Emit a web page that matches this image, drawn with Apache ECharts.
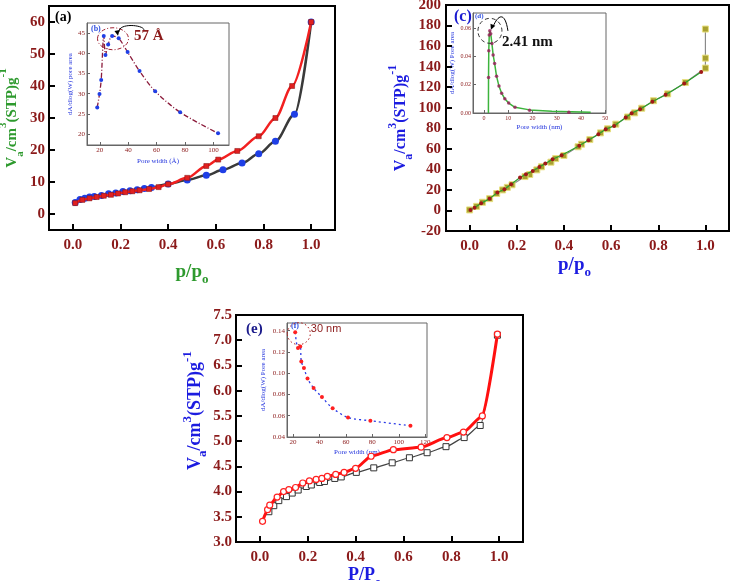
<!DOCTYPE html>
<html><head><meta charset="utf-8">
<script src="https://cdn.jsdelivr.net/npm/echarts@6/dist/echarts.min.js"></script>
<style>html,body{margin:0;padding:0;background:#fff}#c{width:732px;height:581px}</style>
</head><body><div id="c"></div><script>
// ---------- data ----------
// Panel (a): N2 isotherm
const aAdsP = [0.01,0.03,0.05,0.07,0.09,0.12,0.15,0.18,0.21,0.24,0.27,0.30,0.33,0.40,0.48,0.56,0.63,0.71,0.78,0.85,0.93,1.0];
const aAdsV = [3.6,4.5,4.9,5.3,5.5,5.8,6.3,6.6,7.0,7.3,7.6,8.0,8.3,9.4,10.6,12.1,13.8,15.9,18.8,22.7,31.2,60.0];
const aDesP = [0.01,0.04,0.07,0.10,0.13,0.16,0.19,0.22,0.25,0.28,0.32,0.36,0.40,0.48,0.56,0.61,0.69,0.78,0.85,0.92,1.0];
const aDesV = [3.4,4.4,4.9,5.3,5.7,6.0,6.4,6.8,7.1,7.4,7.8,8.4,9.3,11.3,15.0,17.0,19.7,24.3,30.0,40.0,60.0];
// Inset (b): pore size distribution
const bWidth = [18.2,19.8,21.0,22.8,24.0,25.9,28.7,33.3,39.6,48.0,59.0,76.6,103.3];
const bArea  = [26.6,29.9,33.4,44.3,39.6,42.2,44.3,43.7,40.3,35.6,30.6,25.4,20.2];
// Panel (c)
const cAdsP = [0.004,0.021,0.049,0.085,0.118,0.148,0.176,0.214,0.239,0.268,0.296,0.321,0.352,0.39,0.465,0.504,0.546,0.577,0.613,0.662,0.687,0.723,0.775,0.831,0.91,0.982];
const cAdsV = [0.5,2.7,6.9,11.5,17.4,20.6,25.5,32.0,35.2,38.5,42.4,45.6,49.8,53.8,62.9,68.4,74.2,79.1,82.3,90.5,94.7,98.6,105.8,112.6,123.6,134.7];
const cDesP = [1.0,1.0,1.0,0.915,0.84,0.78,0.73,0.70,0.67,0.62,0.585,0.555,0.51,0.475,0.46,0.40,0.365,0.345,0.305,0.285,0.255,0.235,0.18,0.16,0.14,0.115,0.085,0.055,0.03,0.0];
const cDesV = [176.6,148.3,138.6,124.5,113.5,106.8,99.5,95.0,91.0,84.0,79.5,75.5,69.0,64.5,62.0,53.5,50.5,47.0,42.5,39.5,35.0,33.0,25.0,22.5,20.0,16.5,11.5,8.0,4.0,0.5];
// Inset (d)
const dWidth = [1.9,2.0,2.2,2.41,2.8,3.3,3.8,4.4,5.2,6.2,7.3,8.6,10.2,12.8,18.8,35.0];
const dArea  = [0.025,0.044,0.055,0.058,0.056,0.049,0.041,0.035,0.026,0.019,0.014,0.010,0.007,0.004,0.002,0.0006];
const dLineW = [1.85,1.9,2.0,2.2,2.41,2.8,3.3,3.8,4.4,5.2,6.2,7.3,8.6,10.2,12.8,18.8,28.0,44.0];
const dLineA = [0.0,0.025,0.044,0.055,0.058,0.056,0.049,0.041,0.035,0.026,0.019,0.014,0.010,0.007,0.004,0.0022,0.0012,0.0005];
// Panel (e)
const eAdsP = [0.011,0.032,0.041,0.072,0.099,0.121,0.149,0.179,0.207,0.235,0.259,0.282,0.317,0.352,0.40,0.465,0.558,0.674,0.782,0.851,0.93,0.993];
const eAdsV = [3.41,3.64,3.73,3.89,4.00,4.04,4.08,4.17,4.21,4.24,4.26,4.30,4.34,4.38,4.46,4.70,4.83,4.88,5.07,5.18,5.50,7.12];
const eDesP = [0.0375,0.058,0.079,0.111,0.135,0.16,0.194,0.215,0.25,0.27,0.313,0.34,0.403,0.476,0.553,0.625,0.699,0.778,0.854,0.921,0.993];
const eDesV = [3.60,3.72,3.82,3.90,3.97,4.03,4.10,4.13,4.18,4.20,4.26,4.29,4.38,4.47,4.57,4.67,4.77,4.89,5.07,5.31,7.10];
// Inset (f)
const fWidth = [21.7,23.8,25.5,26.3,28.3,31.0,35.6,41.9,50.0,61.6,78.5,108.8];
const fArea  = [0.1384,0.1237,0.125,0.111,0.105,0.095,0.086,0.0775,0.067,0.0584,0.0553,0.0506];
// tick values
const pMajor = [0,0.2,0.4,0.6,0.8,1.0];
const aYMajor = [0,10,20,30,40,50,60];
const cYMajor = [-20,0,20,40,60,80,100,120,140,160,180,200];
const eYMajor = [3.0,3.5,4.0,4.5,5.0,5.5,6.0,6.5,7.0,7.5];
const bXTicks = [20,40,60,80,100], bYTicks = [20,25,30,35,40,45];
const dXTicks = [0,10,20,30,40,50], dYTicks = [0,0.02,0.04,0.06];
const fXTicks = [20,40,60,80,100,120], fYTicks = [0.04,0.06,0.08,0.10,0.12,0.14];

// ---------- helpers ----------
const SERIF = '"Liberation Serif","Times New Roman",serif';
const DR = '#8B1A1A';
const zip = (a, b) => a.map((v, i) => [v, b[i]]);
const xAxes = [], yAxes = [];
const push = (l, o) => { l.push(o); return l.length - 1; };
function makeAxis(g, pos, r, vals, fmt, size, margin, bold, lineCol, lineW, tickLen) {
  return {gridIndex:g, type:'value', position:pos, min:r[0], max:r[1],
    axisLine:{show:true, onZero:false, lineStyle:{color:lineCol, width:lineW}},
    splitLine:{show:false},
    axisTick:{show:true, inside:true, length:tickLen, customValues:vals, lineStyle:{color:lineCol, width:lineW}},
    axisLabel:{show:true, customValues:vals, formatter:fmt, color:DR, fontFamily:SERIF,
               fontWeight:bold ? 'bold' : 'normal', fontSize:size, margin:margin}};
}
function mainAxes(g, xr, yr, xMaj, yMaj, fx, fy, size, mx, my) {
  return {x:push(xAxes, makeAxis(g,'bottom',xr,xMaj,fx,size,mx,true,'#000',2,6)),
          y:push(yAxes, makeAxis(g,'left',yr,yMaj,fy,size,my,true,'#000',2,6))};
}
function insetAxes(g, xr, yr, xT, yT, fx, fy, size) {
  return {x:push(xAxes, makeAxis(g,'bottom',xr,xT,fx,size,2,false,'#666',1,3)),
          y:push(yAxes, makeAxis(g,'left',yr,yT,fy,size,2,false,'#666',1,3))};
}
const f1 = v => (+v).toFixed(1), f0 = v => String(Math.round(v)), f2 = v => (+v).toFixed(2);

const grids = [
  {left:49, top:6, width:286, height:224},   // a
  {left:446, top:5, width:283, height:226},  // c
  {left:236, top:315, width:287, height:227},// e
  {left:87, top:23, width:142, height:122},  // b inset
  {left:473, top:13, width:133, height:100}, // d inset
  {left:287, top:323, width:140, height:114} // f inset
].map((g, i) => Object.assign(g, {show:true, outerBoundsMode:'none', containLabel:false,
  borderColor: i < 3 ? '#000' : '#666', borderWidth: i < 3 ? 2 : 1,
  backgroundColor: i < 3 ? 'transparent' : '#fff'}));

const A = mainAxes(0, [-0.1,1.1], [-5,65], pMajor, aYMajor, f1, f0, 15, 8, 4);
const C = mainAxes(1, [-0.1,1.1], [-20,200], pMajor, cYMajor, f1, f0, 15, 8, 5);
const E = mainAxes(2, [-0.1,1.1], [3.0,7.5], pMajor, eYMajor, f1, f1, 15, 8, 4);
const B = insetAxes(3, [11,111], [17.3,47.5], bXTicks, bYTicks, f0, f0, 7);
const D = insetAxes(4, [-4.5,50.3], [0,0.0706], dXTicks, dYTicks, f0, f2, 6);
const F = insetAxes(5, [15.5,121.3], [0.04,0.1472], fXTicks, fYTicks, f0, f2, 7);

// axis names
function richName(color, big, small) {
  const b = {fontFamily:SERIF, fontWeight:'bold', color:color, fontSize:big, lineHeight:28};
  return {v:b, s:Object.assign({}, b, {fontSize:small, lineHeight:small+2, verticalAlign:'bottom'}),
          p:Object.assign({}, b, {fontSize:small, lineHeight:small+2, verticalAlign:'top'})};
}
const yTitle = '{v|V}{s|a}{v|/cm}{p|3}{v|(STP)g}{p|-1}';
const GREEN = '#2E9A2E', BLUE = '#1C1CE0';
function setName(ax, txt, loc, gap, rot, color, big, small, pad) {
  Object.assign(ax, {name:txt, nameLocation:loc, nameGap:gap, nameRotate:rot,
    nameTextStyle:{rich:richName(color, big, small), padding:pad || 0}});
}
setName(yAxes[A.y], yTitle, 'middle', 23, 90, GREEN, 15, 11);
setName(xAxes[A.x], '{v|p/p}{s|o}', 'middle', 28, 0, GREEN, 19, 13);
setName(yAxes[C.y], yTitle, 'middle', 26, 90, BLUE, 16, 12);
setName(xAxes[C.x], '{v|p/p}{s|o}', 'middle', 20, 0, BLUE, 19, 13, [0,26,0,0]);
setName(yAxes[E.y], yTitle, 'middle', 18, 90, BLUE, 18, 13, [0,0,0,36]);
setName(xAxes[E.x], '{v|P/P}{s|o}', 'middle', 12, 0, BLUE, 18, 12, [0,30,0,0]);
function smallName(ax, txt, gap, rot) {
  Object.assign(ax, {name:txt, nameLocation:'middle', nameGap:gap, nameRotate:rot,
    nameTextStyle:{fontFamily:SERIF, fontSize:7, color:'#2233DD'}});
}
smallName(yAxes[B.y], 'dA/dlog(W) pore area', 12, 90);
smallName(xAxes[B.x], 'Pore width (Å)', 13, 0);
smallName(yAxes[D.y], 'dA/dlog(W) Pore area', 17, 90);
smallName(xAxes[D.x], 'Pore width (nm)', 11, 0);
smallName(yAxes[F.y], 'dA/dlog(W) Pore area', 20, 90);
smallName(xAxes[F.x], 'Pore width (nm)', 12, 0);

const series = [
  {type:'line', xAxisIndex:A.x, yAxisIndex:A.y, data:zip(aAdsP,aAdsV), smooth:0.3, smoothMonotone:'x',
   lineStyle:{color:'#3a3a3a', width:2.5}, symbol:'circle', symbolSize:7, itemStyle:{color:'#1F3FE6'}, z:3},
  {type:'line', xAxisIndex:A.x, yAxisIndex:A.y, data:zip(aDesP,aDesV), smooth:0.3, smoothMonotone:'x',
   lineStyle:{color:'#F22020', width:2.5}, symbol:'rect', symbolSize:5, itemStyle:{color:'#E02020', borderColor:'#801010', borderWidth:0.5}, z:4},
  {type:'line', xAxisIndex:B.x, yAxisIndex:B.y, data:zip(bWidth,bArea), smooth:0.3,
   lineStyle:{color:'#8B1A3A', width:1.3, type:[5,2,1,2]}, symbol:'circle', symbolSize:4, itemStyle:{color:'#1F3FE6'}, z:6},
  {type:'line', xAxisIndex:C.x, yAxisIndex:C.y, data:zip(cDesP,cDesV),
   lineStyle:{color:'#8a8a8a', width:1.2}, symbol:'rect', symbolSize:6, itemStyle:{color:'#A8A030', borderColor:'#E8E080', borderWidth:1}, z:3},
  {type:'line', xAxisIndex:C.x, yAxisIndex:C.y, data:zip(cAdsP,cAdsV),
   lineStyle:{color:'#2CA02C', width:1.2}, symbol:'circle', symbolSize:4, itemStyle:{color:'#A01818'}, z:4},
  {type:'line', xAxisIndex:D.x, yAxisIndex:D.y, data:zip(dLineW,dLineA), showSymbol:false, symbol:'none',
   lineStyle:{color:'#3CB43C', width:1.5}, z:6},
  {type:'scatter', xAxisIndex:D.x, yAxisIndex:D.y, data:zip(dWidth,dArea), symbol:'circle', symbolSize:3.5,
   itemStyle:{color:'#9A1A5A'}, z:7},
  {type:'line', xAxisIndex:E.x, yAxisIndex:E.y, data:zip(eDesP,eDesV), smooth:0.2, smoothMonotone:'x',
   lineStyle:{color:'#444', width:1.2}, symbol:'rect', symbolSize:6, itemStyle:{color:'#fff', borderColor:'#333', borderWidth:1}, z:3},
  {type:'line', xAxisIndex:E.x, yAxisIndex:E.y, data:zip(eAdsP,eAdsV), smooth:0.2, smoothMonotone:'x',
   lineStyle:{color:'#FF1010', width:3}, symbol:'circle', symbolSize:6, itemStyle:{color:'#fff', borderColor:'#FF2020', borderWidth:1.2}, z:4},
  {type:'line', xAxisIndex:F.x, yAxisIndex:F.y, data:zip(fWidth,fArea), smooth:0.3,
   lineStyle:{color:'#2A3AE6', width:1.3, type:[2,3]}, symbol:'circle', symbolSize:4, itemStyle:{color:'#FF2020'}, z:6}
];

const chart = echarts.init(document.getElementById('c'));
chart.setOption({animation:false, backgroundColor:'#fff', grid:grids, xAxis:xAxes, yAxis:yAxes, series:series});

// annotations placed from data coordinates
const px = (ax, p) => chart.convertToPixel({xAxisIndex:ax.x, yAxisIndex:ax.y}, p);
const txt = (t, x, y, font, fill, align) => ({type:'text', x:x, y:y, z:50,
  style:{text:t, font:font, fill:fill, align:align || 'left', verticalAlign:'middle'}});
const pb = px(B, [29.3, 43.6]), pd = px(D, [2.48, 0.058]), pf = px(F, [24.4, 0.1372]);
const arrowHead = (x, y, ang, col) => ({type:'polygon', z:50, shape:{points:[
  [x, y], [x + 6*Math.cos(ang+0.45), y + 6*Math.sin(ang+0.45)], [x + 6*Math.cos(ang-0.45), y + 6*Math.sin(ang-0.45)]]},
  style:{fill:col}});
chart.setOption({graphic:[
  txt('(a)', 55, 17, 'bold 14px ' + SERIF, '#000'),
  txt('(c)', 454, 17, 'bold 16px ' + SERIF, '#1A1AD0'),
  txt('(e)', 246, 329, 'bold 15px ' + SERIF, '#1A1A8B'),
  txt('(b)', 91, 29, 'bold 8px ' + SERIF, '#3050E0'),
  txt('(d)', 475, 16, 'bold 7px ' + SERIF, '#3050E0'),
  txt('(f)', 291, 326, 'bold 8px ' + SERIF, '#3050E0'),
  // (b) annotation
  {type:'ellipse', z:50, shape:{cx:pb[0], cy:pb[1], rx:15.5, ry:11}, style:{fill:'none', stroke:'#A02030', lineWidth:1, lineDash:[4,2,1,2]}},
  txt('57 Å', pb[0] + 21, pb[1] - 3, 'bold 15px ' + SERIF, '#8B1A1A'),
  {type:'bezierCurve', z:50, shape:{x1:pb[0] + 31, y1:pb[1] - 9, x2:pb[0] + 6, y2:pb[1] - 7, cpx1:pb[0] + 30, cpy1:pb[1] - 14, cpx2:pb[0] + 6, cpy2:pb[1] - 16},
   style:{stroke:'#000', lineWidth:1, fill:'none'}},
  arrowHead(pb[0] + 5, pb[1] - 3, -1.75, '#000'),
  // (d) annotation
  {type:'ellipse', z:50, shape:{cx:pd[0], cy:pd[1], rx:12, ry:12.5}, style:{fill:'none', stroke:'#333', lineWidth:1, lineDash:[4,3]}},
  txt('2.41 nm', pd[0] + 12, pd[1] + 11, 'bold 15px ' + SERIF, '#111'),
  {type:'bezierCurve', z:50, shape:{x1:pd[0] + 18, y1:pd[1], x2:pd[0] + 3, y2:pd[1] - 4, cpx1:pd[0] + 15, cpy1:pd[1] - 20, cpx2:pd[0] + 8, cpy2:pd[1] - 16},
   style:{stroke:'#000', lineWidth:1, fill:'none'}},
  arrowHead(pd[0] + 1, pd[1] - 1, -1.2, '#000'),
  // (f) annotation
  {type:'ellipse', z:50, shape:{cx:pf[0], cy:pf[1], rx:11.5, ry:11}, style:{fill:'none', stroke:'#B02020', lineWidth:1, lineDash:[1.5,2.5]}},
  txt('30 nm', pf[0] + 12, pf[1] - 5, '11px "Liberation Sans", Arial, sans-serif', '#8B1A1A')
]});
</script></body></html>
